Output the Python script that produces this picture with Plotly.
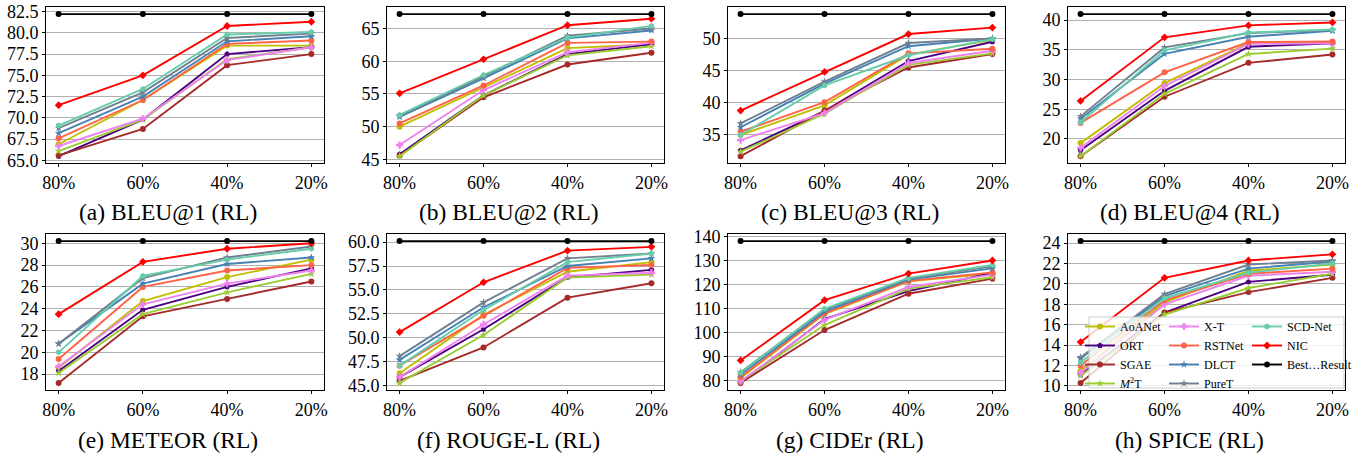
import plotly.graph_objects as go

ratios = ["80%", "60%", "40%", "20%"]

models = ["AoANet", "ORT", "SGAE", "M2T", "X-T", "RSTNet", "DLCT", "PureT", "SCD-Net", "NIC", "Best"]
labels = {"AoANet": "AoANet", "ORT": "ORT", "SGAE": "SGAE", "M2T": "<i>M</i><sup>2</sup>T",
          "X-T": "X-T", "RSTNet": "RSTNet", "DLCT": "DLCT", "PureT": "PureT",
          "SCD-Net": "SCD-Net", "NIC": "NIC", "Best": "Best…Result"}
colors = {"AoANet": "#bfbf00", "ORT": "#4b0082", "SGAE": "#a52a2a", "M2T": "#9acd32",
          "X-T": "#ee82ee", "RSTNet": "#ff6347", "DLCT": "#4682b4", "PureT": "#708090",
          "SCD-Net": "#66cdaa", "NIC": "#ff0000", "Best": "#000000"}
symbols = {"AoANet": "circle", "ORT": "pentagon", "SGAE": "circle", "M2T": "star",
           "X-T": "cross", "RSTNet": "circle", "DLCT": "star", "PureT": "star",
           "SCD-Net": "hexagon", "NIC": "diamond", "Best": "circle"}

bleu1 = {"AoANet": [66.9, 72.1, 78.5, 78.5], "ORT": [65.5, 69.8, 77.5, 78.3],
         "SGAE": [65.6, 68.7, 76.2, 77.5], "M2T": [66.1, 69.8, 76.9, 78.3],
         "X-T": [66.7, 69.9, 76.8, 78.3], "RSTNet": [67.6, 72.1, 78.7, 79.1],
         "DLCT": [68.2, 72.5, 79.0, 79.6], "PureT": [68.8, 73.0, 79.4, 79.9],
         "SCD-Net": [69.1, 73.4, 79.8, 80.1], "NIC": [71.5, 75.0, 80.8, 81.3],
         "Best": [82.2, 82.2, 82.2, 82.2]}
bleu2 = {"AoANet": [50.0, 56.0, 62.0, 62.6], "ORT": [45.8, 54.8, 61.1, 62.6],
         "SGAE": [45.6, 54.5, 59.5, 61.3], "M2T": [45.5, 54.8, 60.9, 62.3],
         "X-T": [47.2, 55.6, 61.4, 62.8], "RSTNet": [50.5, 56.3, 62.8, 63.0],
         "DLCT": [51.5, 57.4, 63.5, 64.7], "PureT": [51.7, 57.7, 63.9, 65.0],
         "SCD-Net": [51.8, 57.9, 63.6, 65.4], "NIC": [55.1, 60.3, 65.5, 66.5],
         "Best": [67.2, 67.2, 67.2, 67.2]}
bleu3 = {"AoANet": [35.0, 39.6, 47.5, 49.8], "ORT": [32.6, 38.7, 46.5, 49.5],
         "SGAE": [31.7, 38.8, 45.5, 47.6], "M2T": [32.4, 38.3, 45.9, 47.7],
         "X-T": [34.2, 38.4, 46.2, 48.1], "RSTNet": [35.5, 40.1, 47.7, 48.4],
         "DLCT": [36.2, 43.0, 48.8, 50.0], "PureT": [36.8, 43.3, 49.3, 50.0],
         "SCD-Net": [35.0, 42.7, 47.4, 49.9], "NIC": [38.8, 44.8, 50.7, 51.7],
         "Best": [53.8, 53.8, 53.8, 53.8]}
bleu4 = {"AoANet": [19.3, 29.4, 36.1, 36.3], "ORT": [18.1, 28.1, 35.5, 36.1],
         "SGAE": [17.1, 27.1, 32.8, 34.2], "M2T": [17.1, 27.6, 34.3, 35.2],
         "X-T": [18.5, 28.9, 36.0, 36.1], "RSTNet": [22.7, 31.2, 36.3, 36.4],
         "DLCT": [23.4, 34.3, 37.2, 38.2], "PureT": [23.8, 35.4, 37.8, 38.3],
         "SCD-Net": [22.8, 34.9, 37.9, 38.4], "NIC": [26.4, 37.1, 39.1, 39.6],
         "Best": [41.0, 41.0, 41.0, 41.0]}
meteor = {"AoANet": [18.6, 24.7, 26.9, 28.5], "ORT": [18.3, 23.9, 26.0, 27.7],
          "SGAE": [17.2, 23.3, 24.9, 26.5], "M2T": [18.1, 23.5, 25.5, 27.2],
          "X-T": [18.7, 24.4, 26.3, 27.5], "RSTNet": [19.4, 26.0, 27.5, 28.0],
          "DLCT": [20.8, 26.3, 28.1, 28.7], "PureT": [20.8, 26.8, 28.7, 29.7],
          "SCD-Net": [20.0, 27.0, 28.5, 29.5], "NIC": [23.5, 28.3, 29.5, 30.0],
          "Best": [30.2, 30.2, 30.2, 30.2]}
rouge = {"AoANet": [46.3, 52.4, 56.9, 57.9], "ORT": [45.9, 50.9, 56.3, 57.1],
         "SGAE": [45.5, 49.0, 54.2, 55.7], "M2T": [45.3, 50.3, 56.3, 56.6],
         "X-T": [45.9, 51.4, 56.5, 56.8], "RSTNet": [47.1, 52.3, 57.3, 57.6],
         "DLCT": [47.7, 53.2, 57.5, 58.3], "PureT": [48.1, 53.7, 58.3, 58.8],
         "SCD-Net": [47.1, 52.9, 57.9, 58.8], "NIC": [50.6, 55.8, 59.1, 59.5],
         "Best": [60.1, 60.1, 60.1, 60.1]}
cider = {"AoANet": [81.0, 107.7, 121.4, 124.6], "ORT": [78.9, 105.6, 117.3, 124.9],
         "SGAE": [78.9, 101.0, 116.2, 122.5], "M2T": [79.6, 103.1, 118.3, 123.1],
         "X-T": [79.6, 105.3, 119.0, 124.2], "RSTNet": [81.4, 108.0, 121.5, 125.1],
         "DLCT": [82.4, 108.7, 122.1, 126.8], "PureT": [83.4, 109.6, 122.5, 127.7],
         "SCD-Net": [83.1, 109.9, 122.8, 128.2], "NIC": [88.3, 113.5, 124.6, 130.1],
         "Best": [138.2, 138.2, 138.2, 138.2]}
spice = {"AoANet": [11.5, 18.2, 21.3, 21.9], "ORT": [11.1, 17.2, 20.2, 20.9],
         "SGAE": [10.3, 17.2, 19.2, 20.6], "M2T": [11.0, 17.0, 19.6, 21.0],
         "X-T": [11.3, 18.0, 20.8, 21.2], "RSTNet": [12.0, 18.4, 21.0, 21.5],
         "DLCT": [12.7, 18.8, 21.5, 22.2], "PureT": [12.8, 19.0, 21.9, 22.3],
         "SCD-Net": [12.3, 18.6, 21.1, 22.0], "NIC": [14.3, 20.6, 22.3, 22.9],
         "Best": [24.2, 24.2, 24.2, 24.2]}

panels = [
    ("(a) BLEU@1 (RL)", bleu1, [65.0, 67.5, 70.0, 72.5, 75.0, 77.5, 80.0, 82.5], ".1f"),
    ("(b) BLEU@2 (RL)", bleu2, [45, 50, 55, 60, 65], "d"),
    ("(c) BLEU@3 (RL)", bleu3, [35, 40, 45, 50], "d"),
    ("(d) BLEU@4 (RL)", bleu4, [20, 25, 30, 35, 40], "d"),
    ("(e) METEOR (RL)", meteor, [18, 20, 22, 24, 26, 28, 30], "d"),
    ("(f) ROUGE-L (RL)", rouge, [45.0, 47.5, 50.0, 52.5, 55.0, 57.5, 60.0], ".1f"),
    ("(g) CIDEr (RL)", cider, [80, 90, 100, 110, 120, 130, 140], "d"),
    ("(h) SPICE (RL)", spice, [10, 12, 14, 16, 18, 20, 22, 24], "d"),
]

legend_of = {"AoANet": "legend", "ORT": "legend", "SGAE": "legend", "M2T": "legend",
             "X-T": "legend2", "RSTNet": "legend2", "DLCT": "legend2", "PureT": "legend2",
             "SCD-Net": "legend3", "NIC": "legend3", "Best": "legend3"}

W, H = 1361, 458
col_px = [(46, 324), (387, 664), (728, 1005), (1068, 1345)]
row_px = [(7, 163.3), (234, 390)]
caption_y = [212, 440]
caption_shift = -17
FONT = "Liberation Serif"

fig = go.Figure()
layout = dict(width=W, height=H, margin=dict(l=0, r=0, t=0, b=0, autoexpand=False),
              paper_bgcolor="white", plot_bgcolor="white",
              font=dict(family=FONT, color="black"))
annotations = []

for i, (caption, data, ticks, fmt) in enumerate(panels):
    r, c = divmod(i, 4)
    n = i + 1
    xa = "x" if n == 1 else f"x{n}"
    ya = "y" if n == 1 else f"y{n}"
    for m in models:
        fig.add_trace(go.Scatter(
            x=ratios, y=data[m], xaxis=xa, yaxis=ya, mode="lines+markers",
            name=labels[m], legendgroup=m, showlegend=(i == 7), legend=legend_of[m],
            line=dict(color=colors[m], width=1.9),
            marker=dict(symbol=symbols[m], size=6, color=colors[m]),
        ))
    allv = [v for m in models for v in data[m]]
    lo, hi = min(allv), max(allv)
    pad = 0.05 * (hi - lo)
    l, rr = col_px[c]
    t, b = row_px[r]
    axis_common = dict(showline=True, mirror=True, linecolor="black", linewidth=1,
                       ticks="outside", ticklen=3, tickcolor="black",
                       tickfont=dict(family=FONT, size=18, color="black"), zeroline=False)
    layout["xaxis" if n == 1 else f"xaxis{n}"] = dict(
        domain=[l / W, rr / W], anchor=ya, type="category", range=[-0.15, 3.15],
        showgrid=False, **axis_common)
    layout["yaxis" if n == 1 else f"yaxis{n}"] = dict(
        domain=[1 - b / H, 1 - t / H], anchor=xa, range=[lo - pad, hi + pad],
        tickvals=ticks, tickformat=fmt, showgrid=True, gridcolor="#b0b0b0",
        gridwidth=1, **axis_common)
    annotations.append(dict(text=caption, x=((l + rr) / 2 + caption_shift) / W,
                            y=1 - caption_y[r] / H,
                            xref="paper", yref="paper", showarrow=False,
                            xanchor="center", yanchor="middle",
                            font=dict(family=FONT, size=23.5, color="black")))

leg_common = dict(bgcolor="rgba(0,0,0,0)", borderwidth=0, yanchor="top",
                  y=1 - 312 / H, xanchor="left",
                  font=dict(family=FONT, size=12, color="black"), tracegroupgap=0)
layout["legend"] = dict(x=1080 / W, **leg_common)
layout["legend2"] = dict(x=1164 / W, **leg_common)
layout["legend3"] = dict(x=1247 / W, **leg_common)
layout["shapes"] = [dict(type="rect", xref="paper", yref="paper",
                         x0=1089 / W, x1=1344 / W, y0=1 - 388 / H, y1=1 - 317 / H,
                         fillcolor="rgba(255,255,255,0.8)",
                         line=dict(color="#cccccc", width=1), layer="above")]
layout["annotations"] = annotations
fig.update_layout(**layout)
fig.write_html("out.html", config={"displayModeBar": False},
               post_script="document.body.style.margin='0';document.body.style.overflow='hidden';")
